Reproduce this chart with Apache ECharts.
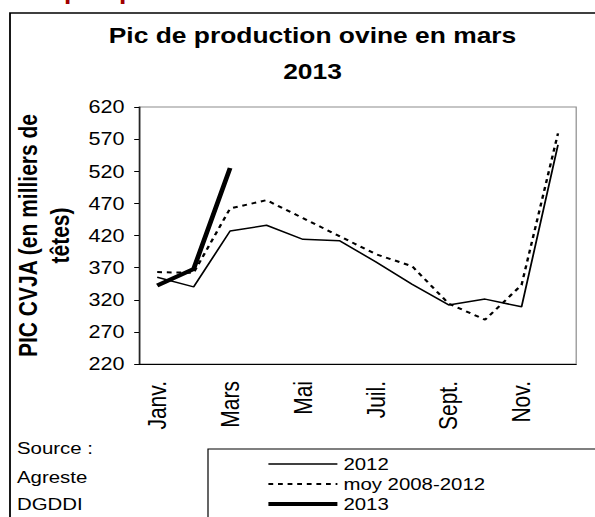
<!DOCTYPE html>
<html>
<head>
<meta charset="utf-8">
<script src="https://cdn.jsdelivr.net/npm/echarts@6/dist/echarts.min.js"></script>
<style>
  html, body { margin: 0; padding: 0; background: #fff; overflow: hidden; }
  /* the reference picture is stretched sideways, so draw narrow and scale */
  #chart { width: 495.83px; height: 517px; transform: scaleX(1.2); transform-origin: 0 0; }
</style>
</head>
<body>
<div id="chart"></div>
<script>
const SX = 1.2
const FONT = 'Liberation Sans, Arial, sans-serif'

const months = ['Janv.', 'Févr.', 'Mars', 'Avr.', 'Mai', 'Juin', 'Juil.', 'Août', 'Sept.', 'Oct.', 'Nov.', 'Déc.']
const yTicks = [220, 270, 320, 370, 420, 470, 520, 570, 620]
const vals2012 = [355, 340, 427, 436, 414, 412, 379, 344, 312, 321, 309, 561]
const valsMoy = [363, 362, 462, 475, 447, 419, 391, 372, 314, 289, 343, 579]
const vals2013 = [342, 368, 525]
const sourceLines = ['Source :', 'Agreste', 'DGDDI']

const chart = echarts.init(document.getElementById('chart'), null, { renderer: 'svg' })

function label(text, x, y, font, align) {
  return {
    type: 'text',
    x: x / SX,
    y: y,
    style: { text: text, font: font, fill: '#000', align: align || 'left', verticalAlign: 'middle' }
  }
}

const graphics = [
  // outer frame (right and bottom fall outside the picture)
  { type: 'rect', shape: { x: 10 / SX, y: 13, width: 600, height: 600 },
    style: { fill: 'none', stroke: '#000', lineWidth: 1.5 } },
  // legend box
  { type: 'rect', shape: { x: 208 / SX, y: 449, width: 600, height: 200 },
    style: { fill: 'none', stroke: '#000', lineWidth: 1 } },
  label('Pic de production ovine en mars', 312.5, 35.5, 'bold 22px ' + FONT, 'center'),
  label('2013', 312.5, 71.5, 'bold 22px ' + FONT, 'center'),
  // cut off red heading above the frame
  { type: 'text', x: 72 / SX, y: -9, style: { text: 'p', font: 'bold 22px ' + FONT, fill: '#a00000', align: 'center', verticalAlign: 'middle' } },
  { type: 'text', x: 127 / SX, y: -9, style: { text: 'p', font: 'bold 22px ' + FONT, fill: '#a00000', align: 'center', verticalAlign: 'middle' } }
]
const sourceY = [448, 477.5, 504]
sourceLines.forEach((t, i) => graphics.push(label(t, 17, sourceY[i], '17px ' + FONT)))

chart.setOption({
  animation: false,
  backgroundColor: '#fff',
  grid: {
    left: 139 / SX, right: 19 / SX, top: 107, bottom: 153,
    outerBoundsMode: 'none',
    show: true, borderColor: '#8c8c8c', borderWidth: 1
  },
  legend: {
    orient: 'vertical',
    left: 266 / SX, top: 454,
    padding: 0,
    itemWidth: 69 / SX, itemHeight: 20, itemGap: 0,
    itemStyle: { opacity: 0 },
    textStyle: { fontFamily: FONT, fontSize: 17, color: '#000', lineHeight: 20 },
    data: [
      { name: '2012', lineStyle: { width: 1.5 } },
      { name: 'moy 2008-2012', lineStyle: { width: 2 } },
      { name: '2013', lineStyle: { width: 4 } }
    ]
  },
  xAxis: {
    type: 'category',
    data: months,
    boundaryGap: true,
    axisLine: { lineStyle: { color: '#000', width: 1 } },
    axisTick: { interval: 0, length: 5, lineStyle: { color: '#000' } },
    axisLabel: { interval: 1, rotate: 90, margin: 17, fontFamily: FONT, fontSize: 21, color: '#000' },
    splitLine: { show: false }
  },
  yAxis: {
    type: 'value',
    min: 220, max: 620,
    name: 'PIC CVJA (en milliers de\ntêtes)',
    nameLocation: 'middle',
    nameRotate: 90,
    nameGap: 52,
    nameTextStyle: { fontFamily: FONT, fontSize: 21, fontWeight: 'bold', color: '#000', lineHeight: 26 },
    axisLine: { show: true, lineStyle: { color: '#000', width: 1 } },
    axisTick: { show: true, length: 4, customValues: yTicks, lineStyle: { color: '#000' } },
    axisLabel: { customValues: yTicks, margin: 12, fontFamily: FONT, fontSize: 18, color: '#000' },
    splitLine: { show: false }
  },
  series: [
    { name: '2012', type: 'line', data: vals2012, symbol: 'none',
      itemStyle: { color: '#000' },
      lineStyle: { color: '#000', width: 1.5 } },
    { name: 'moy 2008-2012', type: 'line', data: valsMoy, symbol: 'none',
      itemStyle: { color: '#000' },
      lineStyle: { color: '#000', width: 2, type: [4, 4] } },
    { name: '2013', type: 'line', data: vals2013, symbol: 'none',
      itemStyle: { color: '#000' },
      lineStyle: { color: '#000', width: 4 } }
  ],
  graphic: graphics
})
</script>
</body>
</html>
